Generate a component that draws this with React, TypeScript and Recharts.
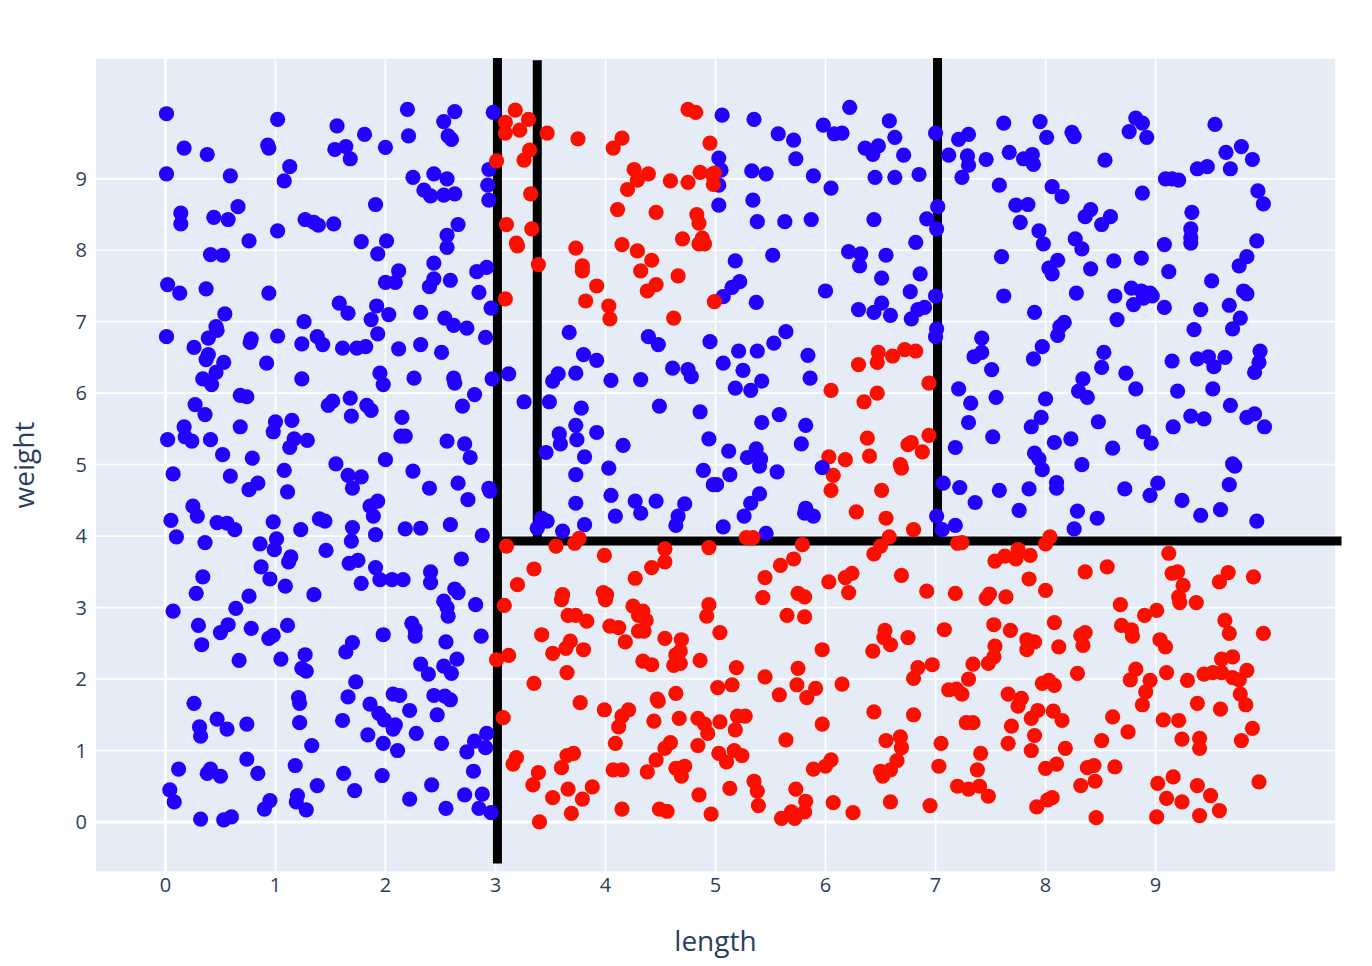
import { ScatterChart, Scatter, XAxis, YAxis, CartesianGrid, ReferenceLine } from "recharts";

const lengthTicks = [0, 1, 2, 3, 4, 5, 6, 7, 8, 9];
const weightTicks = [0, 1, 2, 3, 4, 5, 6, 7, 8, 9];

// [length, weight]
const blueLeftTop = [
   [0.01, 9.91], [1.02, 9.83], [1.56, 9.74], [1.81, 9.62], [0.17, 9.43], [0.38, 9.34], [0.93, 9.47], [0.94, 9.43], [1.54, 9.41], [1.64, 9.45],
   [1.68, 9.28], [2.0, 9.44], [1.13, 9.17], [1.08, 8.97], [0.01, 9.07], [0.59, 9.04], [1.91, 8.64], [0.66, 8.61], [0.14, 8.52], [0.14, 8.37],
   [0.44, 8.46], [0.57, 8.43], [0.76, 8.13], [1.02, 8.27], [1.27, 8.43], [1.35, 8.39], [1.39, 8.35], [1.53, 8.37], [1.78, 8.12], [2.01, 8.13],
   [1.93, 7.95], [0.41, 7.94], [0.52, 7.93], [0.02, 7.52], [0.13, 7.4], [0.37, 7.46], [0.94, 7.4], [2.12, 7.71], [2.0, 7.55], [2.09, 7.55],
   [1.58, 7.26], [1.66, 7.12], [1.92, 7.22], [2.03, 7.1], [1.87, 7.03], [0.54, 7.11], [0.46, 6.93], [0.47, 6.88], [0.39, 6.77], [1.26, 7.0],
   [1.93, 6.83], [0.01, 6.79], [0.78, 6.76], [0.77, 6.71], [1.02, 6.8], [1.38, 6.79], [1.24, 6.69], [1.43, 6.68], [0.26, 6.64], [1.61, 6.63],
   [1.74, 6.63], [1.82, 6.65], [2.12, 6.62],
];

const blueLeftMiddle = [
   [0.39, 6.54], [0.37, 6.47], [0.53, 6.43], [0.46, 6.29], [0.34, 6.2], [0.42, 6.12], [0.92, 6.42], [1.24, 6.2], [1.95, 6.28], [1.98, 6.12],
   [0.68, 5.97], [0.74, 5.95], [0.27, 5.84], [0.36, 5.7], [1.52, 5.89], [1.48, 5.83], [1.68, 5.93], [1.69, 5.68], [1.83, 5.83], [1.87, 5.76],
   [2.15, 5.66], [2.14, 5.4], [2.18, 5.4], [0.17, 5.53], [0.18, 5.39], [0.24, 5.33], [0.02, 5.35], [0.41, 5.35], [0.68, 5.53], [1.0, 5.6],
   [0.98, 5.46], [1.15, 5.62], [1.17, 5.36], [1.13, 5.24], [1.29, 5.34], [0.52, 5.14], [0.79, 5.09], [1.55, 5.01], [2.0, 5.07], [0.07, 4.87],
   [0.59, 4.84], [1.08, 4.92], [0.84, 4.74], [0.76, 4.65], [1.11, 4.62], [1.66, 4.85], [1.78, 4.83], [1.7, 4.67], [1.93, 4.49], [1.86, 4.42],
   [1.89, 4.28], [0.25, 4.42], [0.29, 4.28], [0.05, 4.22], [0.47, 4.19], [0.56, 4.18], [0.63, 4.09], [0.1, 3.99], [0.36, 3.91], [0.98, 4.2],
   [1.23, 4.09], [1.4, 4.24], [1.45, 4.21], [1.7, 4.12], [1.69, 3.93], [1.91, 4.02], [2.18, 4.1], [1.01, 3.96], [0.86, 3.89], [0.99, 3.81],
   [1.46, 3.8], [1.14, 3.71], [1.12, 3.64], [0.87, 3.57], [0.95, 3.4], [1.09, 3.3], [1.67, 3.62], [1.75, 3.66], [1.91, 3.56], [1.95, 3.39],
   [2.06, 3.39], [2.16, 3.39], [1.78, 3.34], [0.34, 3.43], [0.28, 3.2], [0.76, 3.16], [1.35, 3.18],
];

const blueLeftBottom = [
   [0.07, 2.95], [0.64, 2.99], [0.3, 2.75], [0.57, 2.76], [0.5, 2.65], [0.33, 2.48], [0.78, 2.71], [0.98, 2.61], [0.94, 2.57], [1.11, 2.75],
   [0.67, 2.26], [1.05, 2.28], [1.27, 2.34], [1.24, 2.15], [1.28, 2.11], [1.7, 2.51], [1.64, 2.38], [1.98, 2.62], [1.73, 1.96], [1.66, 1.75],
   [1.21, 1.74], [1.22, 1.66], [0.26, 1.66], [0.47, 1.44], [0.31, 1.33], [0.32, 1.2], [0.56, 1.3], [0.74, 1.37], [1.22, 1.39], [1.61, 1.42],
   [1.86, 1.65], [1.94, 1.52], [1.99, 1.43], [2.09, 1.36], [2.07, 1.3], [2.07, 1.79], [2.13, 1.77], [1.84, 1.22], [1.98, 1.1], [2.11, 1.0],
   [1.33, 1.07], [0.74, 0.88], [0.84, 0.68], [0.12, 0.74], [0.41, 0.74], [0.38, 0.68], [0.5, 0.64], [1.18, 0.79], [1.38, 0.51], [1.62, 0.68],
   [1.97, 0.65], [1.72, 0.44], [0.04, 0.45], [0.08, 0.28], [0.32, 0.04], [0.53, 0.03], [0.6, 0.07], [0.95, 0.3], [0.9, 0.18], [1.2, 0.37],
   [1.19, 0.28], [1.28, 0.17], [2.53, 3.09], [2.56, 3.0], [2.57, 2.88], [2.24, 2.78], [2.27, 2.69], [2.27, 2.6], [2.55, 2.52], [2.87, 2.6],
   [2.82, 3.04], [2.65, 2.28], [2.53, 2.18], [2.6, 2.08], [2.32, 2.21], [2.39, 2.07], [2.44, 1.77], [2.54, 1.76], [2.59, 1.71], [2.22, 1.56],
   [2.47, 1.5], [2.28, 1.24], [2.51, 1.1], [2.92, 1.24], [2.81, 1.13], [2.91, 1.04], [2.74, 0.98], [2.8, 0.71], [2.42, 0.52], [2.22, 0.32],
   [2.72, 0.38], [2.88, 0.39], [2.55, 0.19], [2.85, 0.19], [2.96, 0.13],
];

const blueMiddle = [
   [2.2, 9.97], [2.63, 9.94], [2.53, 9.8], [2.57, 9.6], [2.6, 9.55], [2.21, 9.6], [2.98, 9.93], [2.94, 9.13], [2.93, 8.91], [2.94, 8.7],
   [2.25, 9.02], [2.44, 9.07], [2.56, 9.0], [2.35, 8.84], [2.41, 8.76], [2.53, 8.77], [2.63, 8.79], [2.66, 8.36], [2.56, 8.21], [2.56, 8.04],
   [2.44, 7.82], [2.44, 7.6], [2.4, 7.49], [2.59, 7.58], [2.83, 7.7], [2.92, 7.76], [2.85, 7.41], [2.96, 7.19], [2.32, 7.13], [2.54, 7.05],
   [2.62, 6.95], [2.74, 6.91], [2.91, 6.78], [2.32, 6.68], [2.51, 6.57], [3.67, 6.85], [4.39, 6.79], [4.48, 6.68], [4.95, 6.72], [2.26, 6.21],
   [2.62, 6.21], [2.63, 6.14], [2.97, 6.2], [3.12, 6.27], [2.81, 5.98], [2.7, 5.82], [2.56, 5.33], [2.72, 5.29], [2.77, 5.1], [2.25, 4.91],
   [2.4, 4.67], [2.66, 4.74], [2.75, 4.51], [2.94, 4.67], [2.95, 4.63], [2.32, 4.11], [2.59, 4.16], [2.88, 4.01], [2.69, 3.68], [2.41, 3.5],
   [2.41, 3.35], [2.63, 3.26], [2.66, 3.21], [3.26, 5.88], [3.49, 5.88], [3.46, 5.17], [3.57, 6.27], [3.52, 6.17], [3.73, 6.28], [3.8, 6.54],
   [3.92, 6.46], [4.05, 6.18], [4.32, 6.19], [4.61, 6.35], [4.75, 6.33], [4.78, 6.23], [3.78, 5.79], [3.73, 5.55], [3.58, 5.43], [3.59, 5.29],
   [3.74, 5.35], [3.92, 5.45], [4.16, 5.27], [3.81, 5.11], [4.49, 5.82], [4.86, 5.74], [4.94, 5.36], [4.03, 4.95], [3.73, 4.86], [4.89, 4.92],
   [4.98, 4.72], [4.05, 4.57], [4.27, 4.49], [4.32, 4.32], [4.46, 4.49], [4.72, 4.45], [4.66, 4.28], [4.64, 4.15], [4.09, 4.28], [3.73, 4.46],
   [3.81, 4.16], [3.61, 4.07], [3.47, 4.21], [3.42, 4.25], [3.38, 4.11],
];

const blueRightTop = [
   [5.06, 9.89], [5.35, 9.83], [5.57, 9.63], [5.71, 9.54], [5.73, 9.28], [5.98, 9.75], [6.08, 9.63], [6.15, 9.64], [6.22, 10.0], [6.58, 9.81],
   [6.63, 9.58], [6.36, 9.43], [6.43, 9.34], [6.48, 9.46], [6.71, 9.33], [7.0, 9.64], [7.21, 9.55], [7.3, 9.62], [7.62, 9.78], [7.12, 9.33],
   [7.29, 9.32], [7.3, 9.19], [7.46, 9.27], [7.67, 9.37], [7.8, 9.28], [5.03, 9.29], [5.05, 9.12], [5.33, 9.11], [5.46, 9.07], [5.89, 9.04],
   [6.05, 8.87], [6.45, 9.02], [6.63, 9.02], [6.85, 9.06], [7.24, 9.02], [7.58, 8.91], [5.03, 8.91], [5.03, 8.63], [5.34, 8.7], [5.38, 8.4],
   [5.63, 8.4], [5.87, 8.43], [6.44, 8.43], [6.92, 8.44], [7.02, 8.61], [7.01, 8.3], [7.73, 8.63], [7.77, 8.39], [6.82, 8.11],
   [6.21, 7.98], [6.32, 7.95], [6.31, 7.78], [6.55, 7.93], [6.51, 7.61], [6.86, 7.67], [6.77, 7.42], [6.0, 7.43], [5.52, 7.93], [5.18, 7.85],
   [5.22, 7.56], [5.15, 7.48], [5.07, 7.35], [5.37, 7.27], [7.6, 7.91], [7.62, 7.36], [7.0, 7.36], [6.9, 7.2], [6.84, 7.17], [6.78, 7.04],
   [6.3, 7.17], [6.44, 7.13], [6.51, 7.26], [6.59, 7.09], [7.01, 6.9], [7.0, 6.79], [5.64, 6.86], [5.53, 6.7], [7.42, 6.77],
   [7.95, 9.8], [8.01, 9.58], [8.24, 9.65], [8.26, 9.59], [8.82, 9.85], [8.88, 9.78], [8.76, 9.66], [8.92, 9.58], [9.54, 9.76], [9.78, 9.45],
   [9.64, 9.37], [9.88, 9.27], [9.47, 9.17], [9.38, 9.14], [9.68, 9.14], [8.54, 9.26], [7.88, 9.34], [7.89, 9.2], [9.09, 9.0],
   [9.15, 9.0], [9.21, 8.98], [8.06, 8.89], [8.15, 8.75], [8.88, 8.8], [9.93, 8.83], [9.98, 8.65], [7.84, 8.64], [8.41, 8.57], [8.36, 8.47],
   [8.59, 8.47], [8.51, 8.36], [9.33, 8.53], [9.32, 8.3], [9.32, 8.18], [9.32, 8.1], [9.08, 8.08], [7.94, 8.27], [7.98, 8.09], [8.27, 8.16],
   [8.33, 8.02], [9.92, 8.13], [9.83, 7.91], [9.76, 7.78], [8.11, 7.86], [8.03, 7.75], [8.06, 7.67], [8.41, 7.74], [8.62, 7.85], [8.87, 7.89],
   [9.12, 7.7], [9.51, 7.57], [8.28, 7.4], [8.63, 7.36], [8.78, 7.47], [8.87, 7.43], [8.95, 7.4], [8.97, 7.36], [8.89, 7.33], [8.8, 7.24],
   [9.08, 7.2], [9.41, 7.17], [9.67, 7.23], [9.8, 7.43], [9.83, 7.39], [9.77, 7.05], [9.7, 6.9], [9.35, 6.89], [7.9, 7.13], [8.17, 6.99],
   [8.13, 6.93], [8.11, 6.81], [8.65, 7.03],
];

const blueRightLower = [
   [5.07, 6.42], [5.21, 6.59], [5.38, 6.59], [5.84, 6.53], [5.25, 6.32], [5.42, 6.17], [5.18, 6.07], [5.32, 6.04], [5.86, 6.21], [5.42, 5.59],
   [5.58, 5.7], [5.82, 5.55], [5.78, 5.29], [5.12, 5.19], [5.37, 5.22], [5.29, 5.1], [5.41, 5.08], [5.4, 4.98], [5.56, 4.9], [5.13, 4.86],
   [5.01, 4.72], [5.4, 4.59], [5.32, 4.46], [5.26, 4.28], [5.07, 4.13], [5.46, 4.04], [5.82, 4.39], [5.81, 4.32], [5.89, 4.28], [7.01, 4.28],
   [7.06, 4.09], [7.18, 4.15], [7.07, 4.74], [7.22, 4.68], [7.36, 4.47], [7.58, 4.64], [7.76, 4.36], [7.18, 5.24], [7.52, 5.39], [7.3, 5.59],
   [7.32, 5.86], [7.55, 5.94], [7.21, 6.06], [7.51, 6.33], [7.35, 6.51], [7.42, 6.57], [7.89, 6.48], [7.97, 6.65], [8.53, 6.57], [8.51, 6.36],
   [8.34, 6.2], [8.3, 6.03], [8.38, 5.94], [8.73, 6.28], [8.82, 6.06], [9.15, 6.45], [9.38, 6.48], [9.48, 6.51], [9.53, 6.37], [9.63, 6.5],
   [9.95, 6.59], [9.94, 6.43], [9.9, 6.29], [9.2, 6.03], [9.52, 6.06], [8.0, 5.92], [7.96, 5.66], [7.87, 5.53], [8.48, 5.6], [8.89, 5.46],
   [8.96, 5.3], [9.16, 5.53], [9.32, 5.68], [9.44, 5.64], [9.68, 5.83], [9.83, 5.66], [9.9, 5.71], [9.99, 5.53], [8.61, 5.23], [8.08, 5.31],
   [8.23, 5.36], [7.9, 5.16], [7.94, 5.08], [7.97, 4.93], [8.33, 5.0], [9.7, 5.01], [9.72, 4.98], [9.67, 4.72], [8.1, 4.75], [8.1, 4.67],
   [7.85, 4.66], [8.72, 4.66], [9.02, 4.74], [8.95, 4.57], [9.24, 4.5], [9.41, 4.29], [9.59, 4.37], [9.92, 4.21], [8.29, 4.35], [8.47, 4.25],
   [8.26, 4.1],
];

// this one sits over the red points around it
const blueOnTop = [[5.97, 4.96]];

const redUpper = [
   [3.18, 9.96], [3.09, 9.79], [3.09, 9.64], [3.22, 9.68], [3.3, 9.83], [3.31, 9.4], [3.26, 9.26], [3.01, 9.25], [3.47, 9.64], [3.75, 9.56],
   [4.15, 9.57], [4.07, 9.43], [4.75, 9.97], [4.82, 9.93], [4.95, 9.5], [4.26, 9.13], [4.39, 9.07], [4.29, 8.98], [4.2, 8.85], [4.59, 8.97],
   [4.75, 8.95], [4.86, 9.09], [4.97, 9.06], [4.99, 9.08], [4.98, 8.92], [3.32, 8.79], [3.1, 8.36], [3.33, 8.3], [3.19, 8.1], [3.2, 8.06],
   [4.11, 8.57], [4.46, 8.53], [4.83, 8.5], [4.85, 8.38], [4.7, 8.16], [4.88, 8.17], [4.85, 8.09], [4.9, 8.09], [4.15, 8.08], [3.73, 8.03],
   [4.29, 7.99], [4.42, 7.86], [3.79, 7.78], [3.79, 7.71], [4.32, 7.71], [3.39, 7.8], [4.66, 7.64], [4.46, 7.52], [4.38, 7.43], [3.92, 7.5],
   [3.82, 7.29], [4.03, 7.22], [4.04, 7.04], [3.09, 7.32], [4.99, 7.28], [4.62, 7.05],
   [6.3, 6.4], [6.47, 6.43], [6.48, 6.57], [6.61, 6.52], [6.72, 6.61], [6.82, 6.59], [6.94, 6.14], [6.05, 6.04], [6.47, 6.0], [6.35, 5.88],
   [6.38, 5.37], [6.4, 5.12], [6.03, 5.11], [6.18, 5.07], [6.94, 5.41], [6.78, 5.31], [6.75, 5.28], [6.88, 5.18], [6.68, 5.0], [6.69, 4.95],
   [6.07, 4.85], [6.05, 4.64], [6.51, 4.64], [6.28, 4.34], [6.55, 4.25], [6.8, 4.09], [6.58, 3.99], [5.28, 3.98], [5.34, 3.98], [7.2, 3.9],
   [7.24, 3.91], [8.04, 3.99],
];

const redMiddle = [
   [3.1, 3.86], [3.55, 3.86], [3.72, 3.9], [3.76, 3.97], [3.99, 3.73], [4.54, 3.82], [4.54, 3.64], [4.42, 3.56], [4.94, 3.84], [3.35, 3.54],
   [3.2, 3.32], [4.27, 3.41], [3.61, 3.18], [3.98, 3.21], [4.01, 3.18], [3.6, 3.11], [4.0, 3.11], [4.94, 3.04], [4.92, 2.88],
   [6.5, 3.86], [6.44, 3.75], [5.79, 3.88], [5.71, 3.68], [5.59, 3.59], [5.45, 3.42], [5.43, 3.14], [5.75, 3.2], [5.81, 3.15], [6.03, 3.36],
   [6.18, 3.42], [6.24, 3.48], [6.21, 3.21], [6.69, 3.45], [6.92, 3.23], [7.18, 3.2], [7.49, 3.19], [7.46, 3.13], [7.64, 3.15], [7.54, 3.65],
   [7.63, 3.72], [7.73, 3.68], [7.75, 3.81], [7.85, 3.4], [8.0, 3.89], [7.86, 3.73], [8.0, 3.24], [8.36, 3.5], [8.56, 3.57], [9.12, 3.76],
   [9.15, 3.48], [9.2, 3.5], [9.25, 3.31], [9.21, 3.15], [9.66, 3.49], [9.58, 3.36], [9.89, 3.43],
];

const redLowerLeft = [
   [3.08, 3.03], [3.66, 2.89], [3.73, 2.89], [3.83, 2.81], [4.04, 2.74], [4.12, 2.72], [4.25, 3.02], [4.34, 2.95], [4.3, 2.89], [4.37, 2.82],
   [4.3, 2.67], [4.35, 2.67], [4.18, 2.52], [3.42, 2.62], [3.68, 2.53], [3.64, 2.43], [3.52, 2.36], [3.8, 2.41], [4.54, 2.57], [4.69, 2.55],
   [4.68, 2.39], [4.64, 2.34], [4.68, 2.22], [4.62, 2.19], [4.34, 2.25], [4.42, 2.2], [4.86, 2.26], [3.01, 2.27], [3.12, 2.33], [3.65, 2.09],
   [3.35, 1.94], [3.77, 1.67], [3.99, 1.57], [4.21, 1.57], [4.15, 1.48], [4.12, 1.33], [4.09, 1.1], [4.44, 1.41], [4.47, 1.72], [4.48, 1.69],
   [4.64, 1.8], [4.67, 1.45], [4.84, 1.45], [4.9, 1.37], [4.93, 1.24], [4.84, 1.07], [4.59, 1.11], [4.54, 1.03], [4.46, 0.87], [4.38, 0.7],
   [4.64, 0.75], [4.72, 0.78], [4.69, 0.64], [3.07, 1.46], [3.19, 0.9], [3.16, 0.81], [3.71, 0.96], [3.65, 0.93], [3.6, 0.76], [3.39, 0.69],
   [3.34, 0.52], [3.66, 0.46], [3.88, 0.49], [3.52, 0.34], [3.79, 0.32], [4.07, 0.73], [4.15, 0.73], [4.85, 0.38], [4.15, 0.18], [4.49, 0.18],
   [4.56, 0.15], [3.69, 0.12], [3.4, 0.0], [4.96, 0.11],
];

const redLowerMiddle = [
   [5.65, 2.89], [5.81, 2.87], [5.04, 2.65], [5.97, 2.41], [6.54, 2.68], [6.53, 2.58], [6.59, 2.48], [6.75, 2.58], [6.43, 2.39], [7.08, 2.69],
   [5.19, 2.16], [5.75, 2.15], [5.45, 2.03], [5.02, 1.88], [5.15, 1.92], [5.74, 1.92], [5.58, 1.78], [5.91, 1.87], [5.83, 1.74], [6.15, 1.93],
   [6.84, 2.16], [6.97, 2.2], [6.8, 2.01], [6.44, 1.54], [6.8, 1.5], [5.2, 1.48], [5.27, 1.48], [5.04, 1.4], [5.18, 1.29], [5.97, 1.37],
   [5.64, 1.15], [6.55, 1.14], [6.68, 1.19], [6.69, 1.04], [7.05, 1.1], [5.03, 0.96], [5.17, 1.0], [5.24, 0.93], [5.1, 0.84], [6.05, 0.87],
   [6.0, 0.78], [5.89, 0.74], [6.65, 0.86], [6.59, 0.73], [6.5, 0.71], [6.52, 0.64], [7.03, 0.78], [5.35, 0.57], [5.38, 0.43], [5.13, 0.47],
   [5.73, 0.46], [5.82, 0.29], [5.39, 0.23], [6.07, 0.27], [6.25, 0.13], [6.59, 0.28], [6.95, 0.23], [5.81, 0.14], [5.69, 0.14], [5.6, 0.05],
   [5.72, 0.05], [7.2, 0.5], [7.3, 0.46], [7.4, 0.5], [7.48, 0.36], [7.38, 0.73], [7.41, 0.96], [7.28, 1.39], [7.34, 1.39], [7.69, 1.34],
   [7.66, 1.1], [7.66, 1.79], [7.75, 1.62], [7.78, 1.73], [7.53, 2.76], [7.68, 2.68], [7.54, 2.46], [7.53, 2.31], [7.48, 2.22], [7.34, 2.21],
   [7.3, 2.0], [7.12, 1.85], [7.19, 1.86], [7.24, 1.79],
];

const redLowerRight = [
   [8.68, 3.04], [8.9, 2.89], [9.01, 2.96], [9.22, 3.07], [9.37, 3.07], [8.08, 2.79], [9.63, 2.82], [9.67, 2.64], [9.98, 2.64], [8.36, 2.65],
   [8.32, 2.61], [8.34, 2.47], [8.12, 2.45], [8.69, 2.75], [8.78, 2.69], [8.79, 2.6], [9.04, 2.55], [9.09, 2.45], [7.83, 2.55], [7.9, 2.52],
   [7.83, 2.41], [9.7, 2.31], [9.6, 2.28], [9.83, 2.12], [9.44, 2.07], [9.52, 2.09], [9.6, 2.09], [9.7, 2.02], [9.76, 1.99], [8.82, 2.14],
   [8.77, 1.99], [8.95, 1.98], [9.1, 2.09], [9.29, 1.98], [8.29, 2.08], [7.97, 1.94], [8.03, 1.98], [8.08, 1.91], [8.91, 1.82], [8.88, 1.64],
   [9.38, 1.66], [9.59, 1.58], [9.77, 1.79], [9.82, 1.64], [7.93, 1.56], [7.87, 1.45], [8.07, 1.55], [8.15, 1.42], [8.61, 1.47], [9.07, 1.43],
   [9.21, 1.42], [9.88, 1.31], [7.9, 1.21], [8.75, 1.26], [8.51, 1.14], [9.24, 1.16], [9.4, 1.17], [9.4, 1.03], [9.78, 1.14], [7.87, 1.0],
   [8.18, 1.03], [8.0, 0.75], [8.1, 0.81], [8.38, 0.76], [8.44, 0.79], [8.63, 0.77], [8.32, 0.51], [8.45, 0.57], [9.02, 0.54], [9.16, 0.63],
   [9.38, 0.51], [9.5, 0.37], [9.94, 0.56], [9.1, 0.33], [9.24, 0.28], [8.06, 0.34], [8.02, 0.31], [7.92, 0.21], [8.46, 0.06], [9.01, 0.07],
   [9.4, 0.09], [9.58, 0.16],
];

// the black split lines, [length, weight] ends
const splitLines = [
   [[3.018, -0.58], [3.018, 10.69]],
   [[3.38, 3.93], [3.38, 10.66]],
   [[7.018, 3.93], [7.018, 10.69]],
   [[3.018, 3.93], [10.69, 3.93]],
];

const toRows = (points: number[][]) => points.map(([length, weight]) => ({ length, weight }));

const blueRows = toRows([...blueLeftTop, ...blueLeftMiddle, ...blueLeftBottom, ...blueMiddle, ...blueRightTop, ...blueRightLower]);
const redRows = toRows([...redUpper, ...redMiddle, ...redLowerLeft, ...redLowerMiddle, ...redLowerRight]);

const BLUE = "#2400ff";
const RED = "#fb1000";
const FONT = '"Open Sans", sans-serif';
const TEXT = "#2a3f5f";

const Dot = ({ cx, cy, fill }: any) => <circle cx={cx} cy={cy} r={7.6} fill={fill} />;

const App = () => {
   return (
      <div style={{ position: "absolute", left: 0, top: 0 }}>
         <ScatterChart width={1372} height={966} margin={{ top: 58, right: 36, left: 0, bottom: 0 }}>
            <CartesianGrid fill="#e5ecf6" stroke="#ffffff" strokeWidth={1.7} />
            <XAxis
               type="number"
               dataKey="length"
               domain={[-0.64, 10.64]}
               ticks={lengthTicks}
               height={94}
               tickLine={false}
               axisLine={false}
               allowDataOverflow
               tick={{ fontSize: 20, fill: TEXT, fontFamily: FONT }}
               tickMargin={0}
               label={{ value: "length", position: "insideBottom", offset: 15, fontSize: 28, fill: TEXT, fontFamily: FONT }}
            />
            <YAxis
               type="number"
               dataKey="weight"
               domain={[-0.7, 10.69]}
               ticks={weightTicks}
               width={95}
               tickLine={false}
               axisLine={false}
               allowDataOverflow
               tick={{ fontSize: 20, fill: TEXT, fontFamily: FONT }}
               tickMargin={2}
               label={{ value: "weight", angle: -90, position: "insideLeft", offset: 24, fontSize: 28, fill: TEXT, fontFamily: FONT, style: { textAnchor: "middle" } }}
            />
            <ReferenceLine x={0} stroke="#ffffff" strokeWidth={3} />
            <ReferenceLine y={0} stroke="#ffffff" strokeWidth={3} />
            <Scatter data={blueRows} fill={BLUE} shape={Dot} isAnimationActive={false} />
            <Scatter data={redRows} fill={RED} shape={Dot} isAnimationActive={false} />
            <Scatter data={toRows(blueOnTop)} fill={BLUE} shape={Dot} isAnimationActive={false} />
            {splitLines.map(([start, end], i) => (
               <ReferenceLine
                  key={i}
                  segment={[
                     { x: start[0], y: start[1] },
                     { x: end[0], y: end[1] },
                  ]}
                  stroke="#000000"
                  strokeWidth={9}
                  ifOverflow="visible"
               />
            ))}
         </ScatterChart>
      </div>
   );
};

export default App;
